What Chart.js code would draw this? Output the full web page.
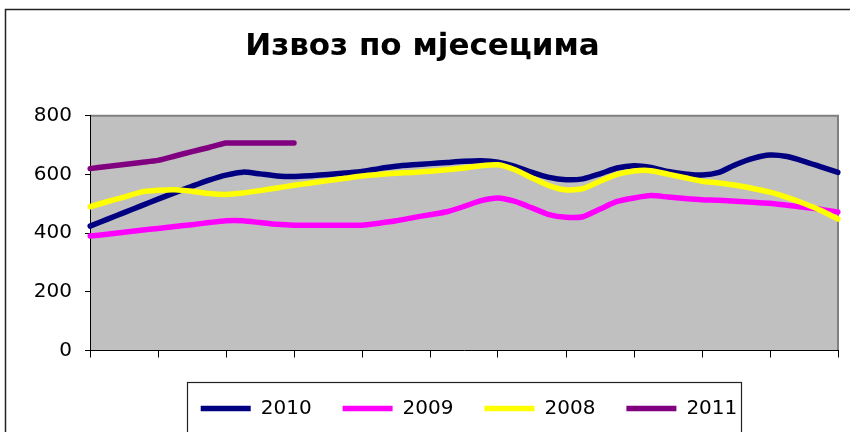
<!DOCTYPE html>
<html><head><meta charset="utf-8">
<script src="https://cdn.jsdelivr.net/npm/chart.js@4"></script>
<style>html,body{margin:0;padding:0;background:#fff}</style>
</head><body>
<canvas id="c" width="850" height="432"></canvas>
<script>
const chartTitle = 'Извоз по мјесецима';
const seriesNames = ['2010', '2009', '2008', '2011'];
const seriesColors = ['#000080', '#FF00FF', '#FFFF00', '#800080'];
const s2010 = [424,447,470,493,516,538,560,581,598,608,602,595,593,596,600,605,610,620,628,633,637,641,645,647,642,628,607,590,582,585,602,622,630,624,610,602,598,607,634,655,666,661,645,626,607];
const s2009 = [390,396,403,410,416,423,429,436,442,442,436,430,427,427,427,427,427,434,442,453,463,473,491,511,520,508,486,463,454,456,482,508,520,528,523,518,514,512,509,505,502,495,488,481,472];
const s2008 = [490,507,523,540,546,548,543,535,532,537,545,554,563,571,579,587,595,600,604,607,611,616,622,630,633,616,588,562,547,552,577,600,612,613,601,589,577,571,563,552,540,522,501,477,448];
const s2011 = [620,627,634,641,648,663,678,692,707,707,707,707,707,null,null,null,null,null,null,null,null,null,null,null,null,null,null,null,null,null,null,null,null,null,null,null,null,null,null,null,null,null,null,null,null];
const yTicks = [0, 200, 400, 600, 800];
const categories = s2010.map((_, i) => String(i));
const seriesData = [s2010, s2009, s2008, s2011];
const drawOrder = [4, 3, 2, 1];

const bgPlugin = {
  id: 'bg',
  afterUpdate(chart) {
    const lg = chart.legend;
    if (lg) {
      const dx = 5;
      lg.left += dx; lg.right += dx;
      lg.legendHitBoxes.forEach(h => { h.left += dx; });
    }
  },
  beforeDraw(chart) {
    const ctx = chart.ctx, a = chart.chartArea;
    ctx.save();
    ctx.fillStyle = '#fff';
    ctx.fillRect(0, 0, chart.width, chart.height);
    ctx.strokeStyle = '#222';
    ctx.lineWidth = 1.5;
    ctx.strokeRect(5.5, 9.5, 1000, 1000);
    ctx.fillStyle = '#C0C0C0';
    ctx.fillRect(a.left, a.top, a.right - a.left, a.bottom - a.top);
    ctx.strokeStyle = '#808080';
    ctx.lineWidth = 2;
    ctx.beginPath();
    ctx.moveTo(a.left, a.top);
    ctx.lineTo(a.right, a.top);
    ctx.lineTo(a.right, a.bottom);
    ctx.stroke();
    ctx.restore();
  }
};
const legendFrame = {
  id: 'legendFrame',
  afterDraw(chart) {
    const lg = chart.legend;
    if (!lg || !lg.legendHitBoxes.length) return;
    const hb = lg.legendHitBoxes;
    const first = hb[0], last = hb[hb.length - 1];
    const cy = first.top + first.height / 2;
    const ctx = chart.ctx;
    ctx.save();
    ctx.strokeStyle = '#222';
    ctx.lineWidth = 1.2;
    const l = Math.round(first.left - 14) + 0.5;
    const r = Math.round(last.left + last.width + 4) + 0.5;
    const t = Math.round(cy - 27) + 0.5;
    ctx.strokeRect(l, t, r - l, 200);
    ctx.restore();
  }
};

new Chart(document.getElementById('c'), {
  type: 'line',
  data: {
    labels: categories,
    datasets: seriesNames.map((n, i) => ({
      label: n,
      data: seriesData[i],
      borderColor: seriesColors[i],
      backgroundColor: seriesColors[i],
      borderWidth: 5.5,
      borderCapStyle: 'round',
      borderJoinStyle: 'round',
      pointRadius: 0,
      pointHoverRadius: 0,
      tension: 0.2,
      spanGaps: false,
      order: drawOrder[i],
      fill: false
    }))
  },
  options: {
    responsive: false,
    animation: false,
    devicePixelRatio: 1,
    layout: { padding: { top: 10, left: 7, right: 12, bottom: 3.5 } },
    plugins: {
      tooltip: { enabled: false },
      title: {
        display: true,
        text: chartTitle,
        color: '#000',
        font: { family: 'DejaVu Sans', size: 31, weight: 'bold' },
        padding: { top: 18.2, bottom: 50.4 }
      },
      legend: {
        position: 'bottom',
        fullSize: false,
        labels: {
          usePointStyle: true,
          pointStyle: 'line',
          pointStyleWidth: 50,
          padding: 31,
          color: '#000',
          font: { family: 'DejaVu Sans', size: 20 },
          sort: (a, b) => a.datasetIndex - b.datasetIndex
        }
      }
    },
    scales: {
      x: {
        type: 'category',
        offset: false,
        ticks: { display: false },
        title: { display: true, text: '', font: { size: 1 }, padding: { top: 8.8, bottom: 0 } },
        grid: {
          drawOnChartArea: false,
          drawTicks: true,
          tickLength: 7,
          color: (c) => (c.index % 4 === 0 ? '#000' : 'rgba(0,0,0,0)')
        },
        border: { display: true, color: '#000', width: 1 }
      },
      y: {
        min: 0,
        max: 800,
        afterBuildTicks: (s) => { s.ticks = yTicks.map(v => ({ value: v })); },
        afterFit: (s) => { s.width = 83; },
        ticks: { color: '#000', padding: 13, font: { family: 'DejaVu Sans', size: 20 } },
        grid: { drawOnChartArea: false, drawTicks: true, tickLength: 5, color: '#000' },
        border: { display: true, color: '#000', width: 1 }
      }
    }
  },
  plugins: [bgPlugin, legendFrame]
});
</script>
</body></html>
